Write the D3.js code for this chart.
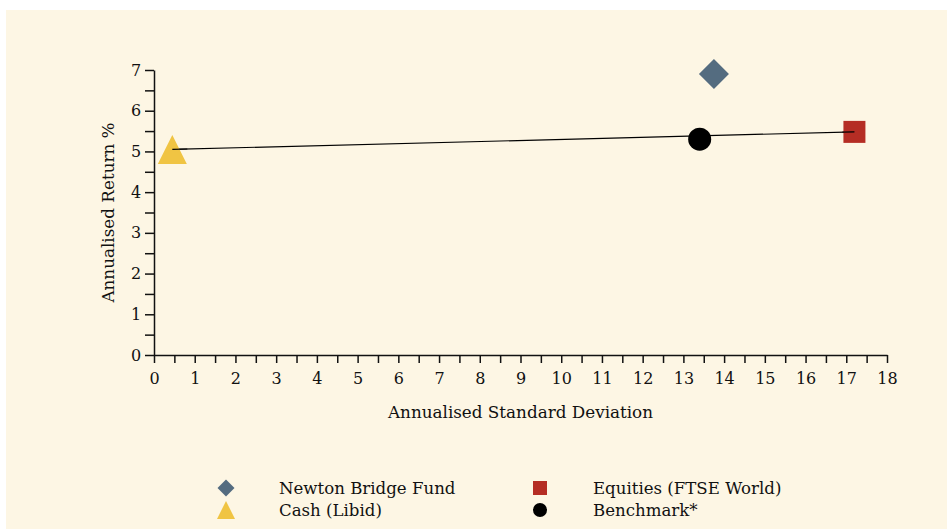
<!DOCTYPE html>
<html>
<head>
<meta charset="utf-8">
<script src="https://cdn.jsdelivr.net/npm/d3@7"></script>
<style>
  body { margin: 0; background: #fff; }
  svg text { font-family: "DejaVu Serif", serif; fill: #111; }
</style>
</head>
<body>
<div id="d3"></div>
<script>
(function() {

  var width = 947;
  var height = 529;
  var margin = ({top: 70, right: 60, bottom: 174, left: 154});

  // scatter data
  var names = ['Newton Bridge Fund', 'Equities (FTSE World)', 'Cash (Libid)', 'Benchmark*'];
  var stdDev = [13.75, 17.2, 0.45, 13.4];
  var returns = [6.9, 5.48, 5.05, 5.3];
  var shapes = ['diamond', 'square', 'triangle', 'circle'];
  var colors = ['#546c80', '#b52d24', '#f0c443', '#000000'];

  var xTicks = d3.range(0, 18.5, 0.5);
  var yTicks = d3.range(0, 7.5, 0.5);

  var data = names.map((n, i) => ({name: n, sd: stdDev[i], ret: returns[i], shape: shapes[i], color: colors[i]}));

  var x = d3.scaleLinear()
    .domain([0, 18])
    .range([margin.left, width - margin.right]);

  var y = d3.scaleLinear()
    .domain([0, 7])
    .range([height - margin.bottom, margin.top]);

  function shapePath(shape, size) {
    var s = size / 2;
    if (shape === 'diamond') return `M0,${-s}L${s},0L0,${s}L${-s},0Z`;
    if (shape === 'square') return `M${-s},${-s}H${s}V${s}H${-s}Z`;
    if (shape === 'triangle') return `M0,${-s}L${s},${s}L${-s},${s}Z`;
    return d3.arc()({innerRadius: 0, outerRadius: s, startAngle: 0, endAngle: 2 * Math.PI});
  }

  var markSize = {diamond: 30, square: 22, triangle: 29, circle: 23};
  var legendSize = {diamond: 17, square: 14, triangle: 18, circle: 14};

  function displaygraph(data) {

    const svg = d3.select("#d3")
      .append("svg")
      .attr("width", width)
      .attr("height", height);

    svg.append("rect")
      .attr("x", 6)
      .attr("y", 10)
      .attr("width", width - 6)
      .attr("height", height - 10)
      .attr("fill", "#fdf6e4");

    // axes with half-unit minor ticks
    const gx = svg.append("g")
      .attr("transform", `translate(0,${y(0)})`)
      .call(d3.axisBottom(x).tickValues(xTicks).tickSize(8).tickSizeOuter(0)
        .tickFormat(d => Number.isInteger(d) ? d : ""));

    const gy = svg.append("g")
      .attr("transform", `translate(${x(0)},0)`)
      .call(d3.axisLeft(y).tickValues(yTicks).tickSize(9).tickSizeOuter(0)
        .tickFormat(d => Number.isInteger(d) ? d : ""));

    [gx, gy].forEach(g => {
      g.selectAll("path, line").attr("stroke", "#111").attr("stroke-width", 1.5);
      g.selectAll("text").style("font-size", "16px").attr("fill", "#111");
    });
    gx.selectAll("text").attr("dy", "1.1em");
    gy.selectAll("text").attr("dx", "-0.05em");

    svg.append("text")
      .attr("x", (x(0) + x(18)) / 2)
      .attr("y", 418)
      .attr("text-anchor", "middle")
      .style("font-size", "16.8px")
      .text("Annualised Standard Deviation");

    svg.append("text")
      .attr("transform", `translate(114,${(y(0) + y(7)) / 2}) rotate(-90)`)
      .attr("text-anchor", "middle")
      .style("font-size", "16.8px")
      .text("Annualised Return %");

    // line from cash to equities
    const cash = data[2], eq = data[1];
    svg.append("line")
      .attr("x1", x(cash.sd)).attr("y1", y(cash.ret))
      .attr("x2", x(eq.sd)).attr("y2", y(eq.ret))
      .attr("stroke", "#000")
      .attr("stroke-width", 1.2);

    svg.append("g")
      .selectAll("path")
      .data(data)
      .join("path")
      .attr("transform", d => `translate(${x(d.sd)},${y(d.ret)})`)
      .attr("d", d => shapePath(d.shape, markSize[d.shape]))
      .attr("fill", d => d.color);

    // line stays visible over the cash triangle and equities square
    svg.append("line")
      .attr("x1", x(cash.sd)).attr("y1", y(cash.ret))
      .attr("x2", x(cash.sd) + 15).attr("y2", y(cash.ret) - 0.4)
      .attr("stroke", "#000")
      .attr("stroke-width", 1.2);
    svg.append("line")
      .attr("x1", x(eq.sd) - 12).attr("y1", y(eq.ret) + 0.3)
      .attr("x2", x(eq.sd)).attr("y2", y(eq.ret))
      .attr("stroke", "#000")
      .attr("stroke-width", 1.2);

    // legend
    var legendPos = [[226, 488], [540, 488], [226, 510], [540, 510]];
    const leg = svg.append("g")
      .selectAll("g")
      .data(data)
      .join("g")
      .attr("transform", (d, i) => `translate(${legendPos[i][0]},${legendPos[i][1]})`);

    leg.append("path")
      .attr("d", d => shapePath(d.shape, legendSize[d.shape]))
      .attr("fill", d => d.color);

    leg.append("text")
      .attr("x", 53)
      .attr("dy", "0.35em")
      .style("font-size", "16.6px")
      .text(d => d.name);
  }

  window.addEventListener('load', function() {
    displaygraph(data)
  });
})();
</script>
</body>
</html>
